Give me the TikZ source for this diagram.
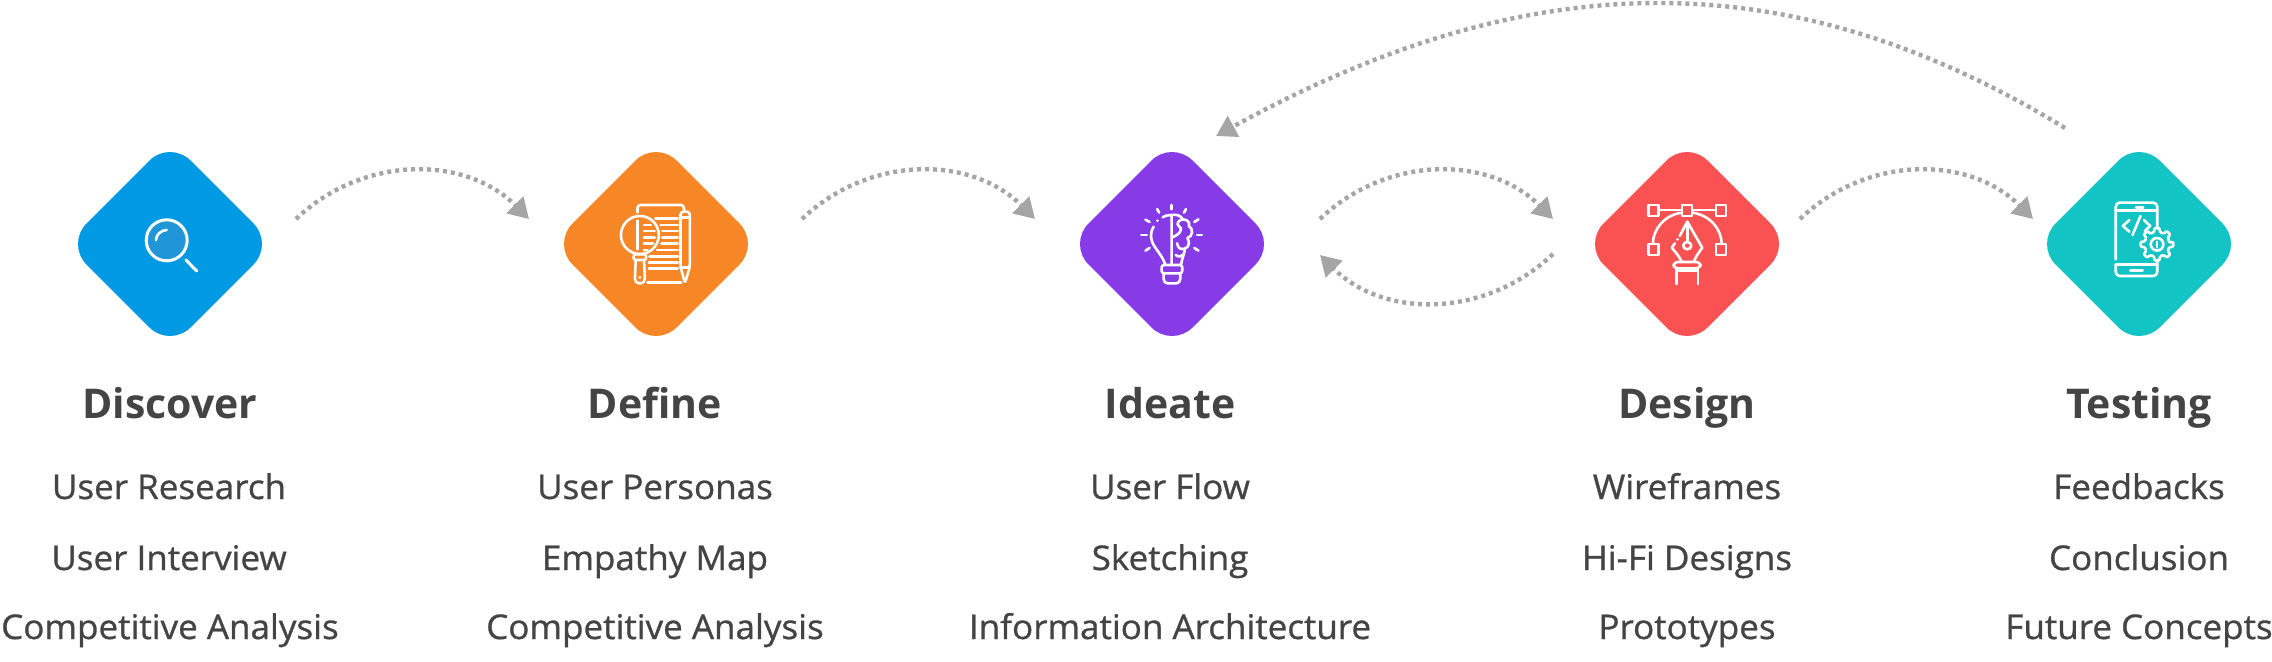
\documentclass[tikz,border=0pt]{standalone}
\usepackage{fontspec}
\setmainfont{Open Sans}
\newfontfamily\itemfont[FakeBold=0.9,FakeStretch=1.03]{Open Sans}
\usetikzlibrary{shapes.geometric,arrows.meta}
\definecolor{cblue}{HTML}{0099E3}
\definecolor{cglass}{HTML}{2095D8}
\definecolor{corange}{HTML}{F78626}
\definecolor{cpurple}{HTML}{873BE6}
\definecolor{cred}{HTML}{FA5252}
\definecolor{cteal}{HTML}{12C4C4}
\definecolor{ctext}{HTML}{444444}
\definecolor{carrow}{HTML}{A5A5A5}
\tikzset{
  stage/.style={diamond,aspect=1,inner sep=0pt,outer sep=0pt,minimum width=208pt,minimum height=208pt,rounded corners=29pt,fill=#1},
  titletext/.style={anchor=base,inner sep=0pt,text=ctext,font=\fontsize{41}{41}\selectfont\bfseries},
  itemtext/.style={anchor=base,inner sep=0pt,text=ctext,font=\itemfont\fontsize{34}{34}\selectfont},
  flow/.style={draw=carrow,line width=4.4pt,dash pattern=on 4pt off 4pt,-{Triangle[length=20pt,width=23pt,fill=carrow,color=carrow]}},
  icon/.style={draw=white,line width=2.6pt,line cap=round,line join=round},
  zb/.style={x=0.3444pt,y=-0.3333pt},
  zw/.style={x=0.4413pt,y=-0.3333pt}
}
\begin{document}
\begin{tikzpicture}[x=1pt,y=-1pt]
\useasboundingbox (0,0) rectangle (2272,661);
% stages
\node[stage=cblue] (s1) at (170,244) {};
\node[stage=corange] (s2) at (656,244) {};
\node[stage=cpurple] (s3) at (1172,244) {};
\node[stage=cred] (s4) at (1687,244) {};
\node[stage=cteal] (s5) at (2139,244) {};
% free ends of connectors
\coordinate (a1s) at (296,219); \coordinate (a1e) at (529,219);
\coordinate (a2s) at (802,219); \coordinate (a2e) at (1035,219);
\coordinate (a3s) at (1320,219); \coordinate (a3e) at (1553,219);
\coordinate (a4s) at (1553,254); \coordinate (a4e) at (1320,255);
\coordinate (a5s) at (1800,219); \coordinate (a5e) at (2033,219);
\coordinate (a6s) at (2065,128); \coordinate (a6e) at (1216,136);
\draw[flow] (a1s) .. controls +(67,-64) and +(-64,-64) .. (a1e);
\draw[flow] (a2s) .. controls +(67,-64) and +(-64,-64) .. (a2e);
\draw[flow] (a3s) .. controls +(67,-64) and +(-64,-64) .. (a3e);
\draw[flow] (a4s) .. controls +(-67,64) and +(64,64) .. (a4e);
\draw[flow] (a5s) .. controls +(67,-64) and +(-64,-64) .. (a5e);
\draw[flow] (a6s) .. controls +(-275,-168) and +(314,-173) .. (a6e);
% icon 1: magnifier
\begin{scope}[shift={(s1.center)}]
\fill[cglass] (-3.3,-3.7) circle (20);
\draw[icon,line width=3pt] (-3.3,-3.7) circle (20.5);
\draw[icon] (-14,-4) .. controls (-14,-9) and (-9,-14) .. (-3.3,-14);
\draw[icon,line width=3pt] (16,16) -- (26.7,27);
\end{scope}
% icon 2: document, magnifier, pencil
\begin{scope}[xshift=540pt,yshift=-130pt,zb]
\draw[icon] (283,248) -- (283,232) [rounded corners=3pt] -- (283,225) -- (418,225) -- (418,240);
\draw[icon] (290,315) ellipse (55 and 57);
\draw[icon] (283,272) -- (283,358);
\foreach \yy/\xa/\xb in {266/335/400,285/350/400,303/355/400,322/355/400,341/352/400,360/340/400,379/318/400,397/316/400,416/316/400,457/312/410,285/302/322,303/302/333,322/302/333,341/302/328,360/302/312}
  \draw[icon] (\xa,\yy) -- (\xb,\yy);
\draw[icon,rounded corners=2pt] (272,373) rectangle (308,390);
\draw[icon,rounded corners=4.5pt] (278,390) -- (275,460) -- (305,460) -- (302,390);
\fill[white] (290,442) circle (1.6pt);
\draw[icon,rounded corners=3pt] (408,410) -- (408,245) -- (435,245) -- (435,410) -- (421,460) -- cycle;
\draw[icon] (408,262) -- (435,262);
\draw[icon] (408,412) -- (435,412);
\end{scope}
% icon 3: bulb and brain
\begin{scope}[xshift=1060pt,yshift=-130pt,zb]
\foreach \xa/\ya/\xb/\yb in {324/225/324/238,282/237/288/248,366/237/360/248,248/269/260/276,402/268/390/276,236/315/252/315,398/315/412/315,248/362/260/354,402/362/390/354}
  \draw[icon] (\xa,\ya) -- (\xb,\yb);
\fill[white] (283,272) circle (1.4pt);
\draw[icon] (272,290) .. controls (260,310) and (262,330) .. (275,350) .. controls (288,370) and (300,385) .. (305,402);
\draw[icon] (298,262) .. controls (308,256) and (316,255) .. (324,255) -- (324,402);
\draw[icon] (324,255) .. controls (340,252) and (352,258) .. (356,268) .. controls (372,268) and (378,280) .. (374,288) .. controls (388,296) and (386,320) .. (370,324) .. controls (378,338) and (374,352) .. (362,356) .. controls (364,366) and (356,376) .. (352,402);
\draw[icon] (356,268) .. controls (345,270) and (336,282) .. (345,288) .. controls (358,296) and (350,312) .. (326,322);
\draw[icon] (340,340) .. controls (342,355) and (352,360) .. (362,356);
\draw[icon] (336,375) .. controls (344,382) and (352,380) .. (358,374);
\draw[icon,rounded corners=2.5pt] (295,405) rectangle (355,430);
\draw[icon,rounded corners=4pt] (301,430) -- (301,460) -- (349,460) -- (349,430);
\end{scope}
% icon 4: pen tool
\begin{scope}[xshift=1580pt,yshift=-130pt,zw]
\foreach \xa/\ya in {155/225,231/225,308/225,155/342,308/342}
  \draw[icon] (\xa,\ya) rectangle (\xa+23,\ya+33);
\draw[icon] (178,240) -- (231,240) (254,240) -- (308,240);
\draw[icon] (165,342) .. controls (165,300) and (190,255) .. (231,248);
\draw[icon] (321,342) .. controls (321,300) and (296,255) .. (254,248);
\draw[icon] (226,318) -- (243,275) -- (277,353) .. controls (268,370) and (262,380) .. (258,395);
\draw[icon] (215,340) -- (208,353) .. controls (218,370) and (226,380) .. (230,395);
\fill[white] (221,328) circle (1.5pt);
\draw[icon] (243,275) -- (243,335);
\draw[icon] (243,347) ellipse (9 and 11);
\draw[icon,rounded corners=4pt] (212,396) rectangle (273,415);
\draw[icon] (218,415) -- (218,462) (267,415) -- (267,462) (218,421) -- (267,421);
\end{scope}
% icon 5: phone with gear
\begin{scope}[xshift=1580pt,yshift=-130pt,zw]
\draw[icon,rounded corners=4pt] (1214,388) -- (1214,218) -- (1308,218) -- (1308,295);
\draw[icon] (1214,242) -- (1308,242) (1260,232) -- (1276,232) (1247,422) -- (1275,422);
\draw[icon,rounded corners=4pt] (1214,403) -- (1214,438) -- (1308,438) -- (1308,390);
\draw[icon] (1214,403) -- (1308,403);
\draw[icon] (1245,270) -- (1230,288) -- (1245,305);
\draw[icon] (1270,258) -- (1252,315);
\draw[icon] (1278,270) -- (1292,288) -- (1280,303);
\end{scope}
\begin{scope}[shift={(2157,244.3)}]
\draw[icon,rounded corners=1pt] (-8:12.5)
  \foreach \a in {0,45,...,315} {-- (\a-8:16.5) -- (\a+8:16.5) -- (\a+14:12.5) -- (\a+31:12.5)} -- cycle;
\draw[icon] (0,0) circle (6.3);
\draw[icon] (0,-2.5) -- (0,3);
\end{scope}
% texts
\node[titletext] (t1) at (170,418) {Discover};
\node[itemtext] (t11) at (169,499) {User Research};
\node[itemtext] (t12) at (169,570) {User Interview};
\node[itemtext] (t13) at (170,639) {Competitive Analysis};
\node[titletext] (t2) at (655,418) {Define};
\node[itemtext] (t21) at (655,499) {User Personas};
\node[itemtext] (t22) at (655,570) {Empathy Map};
\node[itemtext] (t23) at (655,639) {Competitive Analysis};
\node[titletext] (t3) at (1170,418) {Ideate};
\node[itemtext] (t31) at (1170,499) {User Flow};
\node[itemtext] (t32) at (1170,570) {Sketching};
\node[itemtext] (t33) at (1170,639) {Information Architecture};
\node[titletext] (t4) at (1687,418) {Design};
\node[itemtext] (t41) at (1687,499) {Wireframes};
\node[itemtext] (t42) at (1687,570) {Hi-Fi Designs};
\node[itemtext] (t43) at (1687,639) {Prototypes};
\node[titletext] (t5) at (2139,418) {Testing};
\node[itemtext] (t51) at (2139,499) {Feedbacks};
\node[itemtext] (t52) at (2139,570) {Conclusion};
\node[itemtext] (t53) at (2139,639) {Future Concepts};
\end{tikzpicture}
\end{document}
